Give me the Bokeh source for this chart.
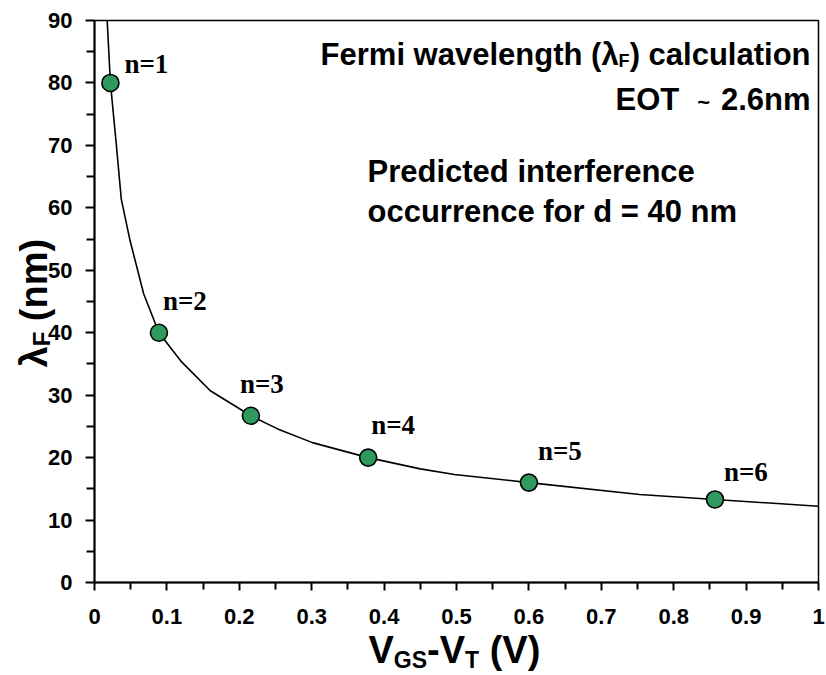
import math
from bokeh.plotting import figure
from bokeh.models import (ColumnDataSource, Label, LabelSet, FixedTicker, Range1d,
                          LinearAxis)
from bokeh.core.properties import value
from bokeh.embed import file_html
from bokeh.resources import INLINE

# ---------------- data ----------------
v_points = [0.022, 0.089, 0.216, 0.378, 0.600, 0.857]
lambda_points = [80.0, 40.0, 26.7, 20.0, 16.0, 13.3]
point_labels = ["n=1", "n=2", "n=3", "n=4", "n=5", "n=6"]

curve_v = [0.0175, 0.022, 0.030, 0.037, 0.049, 0.068, 0.089, 0.119, 0.160,
           0.216, 0.253, 0.301, 0.378, 0.450, 0.497, 0.600, 0.753, 0.857, 1.000]
curve_lambda = [90.0, 80.0, 70.3, 61.4, 54.8, 46.2, 40.0, 35.5, 30.7,
                26.7, 24.6, 22.4, 20.0, 18.2, 17.3, 16.0, 14.1, 13.3, 12.2]

x_ticks = [0.0, 0.1, 0.2, 0.3, 0.4, 0.5, 0.6, 0.7, 0.8, 0.9, 1.0]
x_tick_labels = ["0", "0.1", "0.2", "0.3", "0.4", "0.5", "0.6", "0.7", "0.8", "0.9", "1"]
x_minor = [0.05, 0.15, 0.25, 0.35, 0.45, 0.55, 0.65, 0.75, 0.85, 0.95]
y_ticks = [0, 10, 20, 30, 40, 50, 60, 70, 80, 90]
y_tick_labels = ["0", "10", "20", "30", "40", "50", "60", "70", "80", "90"]
y_minor = [5, 15, 25, 35, 45, 55, 65, 75, 85]

x_min, x_max = 0.0, 1.0
y_min, y_max = 0.0, 90.0

# label offsets (screen px) for the n= labels
label_dx = [14, 4, -11, 3, 9, 9]
label_dy = [10, 23, 23, 24, 23, 18]

SANS = "Liberation Sans"
SERIF = "Liberation Serif"
W = {'V': 0.667, 'G': 0.778, 'S': 0.667, '-': 0.333, 'T': 0.611, ' ': 0.278,
     '(': 0.333, ')': 0.333, 'n': 0.611, 'm': 0.889, 'λ': 0.556, 'F': 0.611,
     'a': 0.556, 'c': 0.556, 'd': 0.611, 'e': 0.556, 'g': 0.611, 'h': 0.611,
     'i': 0.278, 'l': 0.278, 'o': 0.611, 'r': 0.389, 't': 0.333, 'u': 0.611,
     'v': 0.556, 'w': 0.778, 'E': 0.667, 'O': 0.778, '~': 0.584}


def tw(s, size):
    return sum(W.get(c, 0.556) for c in s) * size


# canvas layout of the plotting box (pixels)
CW, CH = 826, 675
BOX_L, BOX_R, BOX_T, BOX_B = 94, 818, 20, 582
sx = (x_max - x_min) / (BOX_R - BOX_L)
sy = (y_max - y_min) / (BOX_B - BOX_T)
x_range = Range1d(x_min - BOX_L * sx, x_max + (CW - BOX_R) * sx)
y_range = Range1d(y_min - (CH - BOX_B) * sy, y_max + BOX_T * sy)

p = figure(width=CW, height=CH, x_range=x_range, y_range=y_range,
           output_backend="svg", toolbar_location=None,
           x_axis_location=None, y_axis_location=None,
           min_border_left=0, min_border_right=0, min_border_top=0, min_border_bottom=0)
p.grid.visible = False
p.background_fill_color = "white"
p.border_fill_color = "white"
p.outline_line_color = None

xaxis = LinearAxis(fixed_location=y_min, bounds=(x_min, x_max),
                   ticker=FixedTicker(ticks=x_ticks, minor_ticks=x_minor),
                   major_label_overrides=dict(zip(x_ticks, x_tick_labels)))
yaxis = LinearAxis(fixed_location=x_min, bounds=(y_min, y_max),
                   ticker=FixedTicker(ticks=y_ticks, minor_ticks=y_minor),
                   major_label_overrides=dict(zip(y_ticks, y_tick_labels)))
for ax in (xaxis, yaxis):
    ax.axis_line_width = 2
    ax.axis_line_color = "black"
    ax.major_tick_line_width = 2
    ax.minor_tick_line_width = 2
    ax.major_tick_line_color = "black"
    ax.minor_tick_line_color = "black"
    ax.major_tick_in = 0
    ax.minor_tick_in = 0
    ax.major_label_text_font = SANS
    ax.major_label_text_font_style = "bold"
    ax.major_label_text_font_size = "22px"
    ax.major_label_text_color = "black"
xaxis.major_tick_out = 8
xaxis.minor_tick_out = 7
yaxis.major_tick_out = 9
yaxis.minor_tick_out = 8
xaxis.major_label_standoff = 18
yaxis.major_label_standoff = 13

# plot box (top & right edges)
p.quad(left=[x_min], right=[x_max], bottom=[y_min], top=[y_max],
       fill_color=None, line_color="black", line_width=1.5)

p.add_layout(xaxis, "below")
p.add_layout(yaxis, "left")

# curve
p.line(curve_v, curve_lambda, line_color="black", line_width=1.6)

# points
src = ColumnDataSource(dict(v=v_points, lam=lambda_points, label=point_labels,
                            dx=label_dx, dy=label_dy))
p.scatter("v", "lam", source=src, size=17, fill_color="#2f9a5f",
          line_color="black", line_width=1.6)
p.add_layout(LabelSet(x="v", y="lam", text="label", x_offset="dx", y_offset="dy",
                      source=src, text_font=value(SERIF), text_font_style="bold",
                      text_font_size="27px", text_color="black",
                      text_baseline="alphabetic", text_align="left"))

K = 0.36  # empirical baseline correction (fraction of font size)


def add_text(cx, cy, text, size, align="left", angle=0.0):
    # cx, cy: baseline anchor in canvas pixels (top-left origin)
    if angle == 0.0:
        cy = cy - K * size
    else:
        cx = cx - K * size
    p.add_layout(Label(x=cx, y=CH - cy, x_units="screen", y_units="screen",
                       text=text, text_font=SANS, text_font_style="bold",
                       text_font_size=f"{size}px", text_color="black",
                       text_align=align, text_baseline="alphabetic", angle=angle))


# "Fermi wavelength (λF) calculation", right-aligned
right = 810
fs = 31
s3 = ") calculation"
add_text(right, 65, s3, fs, align="right")
r2 = right - tw(s3, fs)
add_text(r2, 67, "F", 18, align="right")
r1 = r2 - tw("F", 18)
add_text(r1, 65, "Fermi wavelength (λ", fs, align="right")

# "EOT ~ 2.6nm"
add_text(right, 110, "2.6nm", fs, align="right")
w_num = tw("2.6nm", fs)
add_text(right - w_num - 15, 110, "~", 22, align="left")
add_text(right - w_num - 33, 110, "EOT", fs, align="right")

add_text(367, 182, "Predicted interference", fs)
add_text(367, 222, "occurrence for d = 40 nm", fs)

# x axis label: V_GS-V_T (V)
big, small = 38, 23
cx = 368
xb = 663
for t, s, d, gap in [("V", big, 0, 0), ("GS", small, 5, 0), ("-V", big, 0, 0),
                     ("T", small, 5, 0), ("(V)", big, 0, tw(" ", big))]:
    cx += gap
    add_text(cx, xb + d, t, s)
    cx += tw(t, s)

# y axis label: λ_F (nm), rotated
ybig, ysmall = 38, 24
base_x = 47
cy = 367
for t, s, d, gap in [("λ", ybig, 0, 0), ("F", ysmall, 3, 0), ("(nm)", ybig, 0, tw(" ", ybig))]:
    cy -= gap
    add_text(base_x + d, cy, t, s, angle=math.pi / 2)
    cy -= tw(t, s)

open("out.html", "w").write(file_html(p, INLINE))
